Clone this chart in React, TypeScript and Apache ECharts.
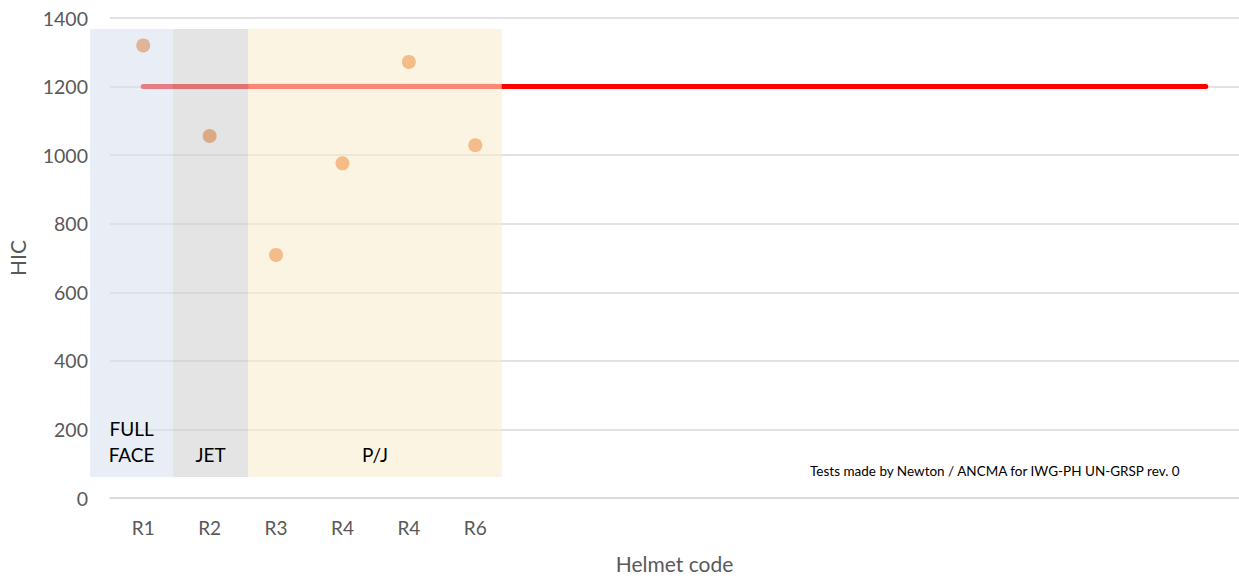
import React, { useEffect, useRef } from "react";
import * as echarts from "echarts";

const categories = ["R1", "R2", "R3", "R4", "R4", "R6", "", "", "", "", "", "", "", "", "", "", ""];
const hicValues = [1320, 1056, 709, 976, 1272, 1029];
const limitValues = [1200, 1200, 1200, 1200, 1200, 1200, 1200, 1200, 1200, 1200, 1200, 1200, 1200, 1200, 1200, 1200, 1200];
const yTicks = [0, 200, 400, 600, 800, 1000, 1200, 1400];

const regionNames = ["FULL\nFACE", "JET", "P/J"];
const regionStart = [-0.8, 0.45, 1.58];
const regionEnd = [0.45, 1.58, 5.4];
const regionLow = [61, 61, 61];
const regionHigh = [1368, 1368, 1368];
const regionColors = ["rgba(215,224,239,0.55)", "rgba(206,206,206,0.55)", "rgba(250,236,204,0.57)"];

const footnote = "Tests made by Newton / ANCMA for IWG-PH UN-GRSP rev. 0";

export default function App() {
  const ref = useRef<HTMLDivElement>(null);
  useEffect(() => {
    if (!ref.current) return;
    const chart = echarts.init(ref.current, null, { renderer: "svg" });
    const font = "Lato, 'Open Sans', sans-serif";
    const regionData = regionNames.map((n, i) => [regionStart[i], regionEnd[i], regionLow[i], regionHigh[i], i]);
    chart.setOption({
      animation: false,
      backgroundColor: "#ffffff",
      textStyle: { fontFamily: font },
      grid: { left: 110, right: 0, top: 18, bottom: 81, containLabel: false, outerBoundsMode: "none" },
      xAxis: [
        {
          type: "category",
          data: categories,
          boundaryGap: true,
          axisLine: { show: true, lineStyle: { color: "#D9D9D9", width: 1.5 } },
          axisTick: { show: false },
          axisLabel: { color: "#595959", fontSize: 19, margin: 20, fontFamily: font, interval: 0 },
          name: "Helmet code",
          nameLocation: "middle",
          nameGap: 55,
          nameTextStyle: { color: "#595959", fontSize: 21, fontFamily: font },
        },
        {
          type: "value",
          min: -0.5,
          max: 16.5,
          show: false,
        },
      ],
      yAxis: {
        type: "value",
        min: yTicks[0],
        max: yTicks[yTicks.length - 1],
        interval: 200,
        axisLine: { show: false },
        axisTick: { show: false },
        splitLine: { lineStyle: { color: "#D9D9D9", width: 1.5 } },
        axisLabel: {
          color: "#595959",
          fontSize: 19.5,
          margin: 22,
          fontFamily: font,
          formatter: (v: number) => String(v),
        },
        name: "HIC",
        nameLocation: "middle",
        nameRotate: 90,
        nameGap: 82,
        nameTextStyle: { color: "#595959", fontSize: 21, fontFamily: font },
      },
      series: [
        {
          type: "line",
          data: limitValues,
          symbol: "none",
          lineStyle: { color: "#FF0000", width: 5, cap: "round" },
          z: 2,
        },
        {
          type: "scatter",
          data: hicValues,
          symbolSize: 14,
          itemStyle: { color: "#ED7D31", opacity: 1 },
          z: 3,
        },
        {
          type: "custom",
          xAxisIndex: 1,
          data: regionData,
          clip: false,
          z: 10,
          renderItem: (params: any, api: any) => {
            const x0 = api.value(0);
            const x1 = api.value(1);
            const y0 = api.value(2);
            const y1 = api.value(3);
            const idx = api.value(4);
            const p0 = api.coord([x0, y1]);
            const p1 = api.coord([x1, y0]);
            return {
              type: "group",
              children: [
                {
                  type: "rect",
                  shape: { x: p0[0], y: p0[1], width: p1[0] - p0[0], height: p1[1] - p0[1] },
                  style: { fill: regionColors[idx] },
                },
                {
                  type: "text",
                  x: (p0[0] + p1[0]) / 2,
                  y: p1[1] - 10,
                  style: {
                    text: regionNames[idx],
                    fill: "#000000",
                    font: "19px " + font,
                    lineHeight: 26,
                    align: "center",
                    verticalAlign: "bottom",
                  },
                },
              ],
            };
          },
        },
      ],
      graphic: [
        {
          type: "text",
          left: 810,
          top: 464,
          style: { text: footnote, fill: "#000000", font: "13.5px " + font },
        },
      ],
    });
    return () => chart.dispose();
  }, []);
  return <div ref={ref} style={{ position: "fixed", left: 0, top: 0, width: 1239, height: 579 }} />;
}
